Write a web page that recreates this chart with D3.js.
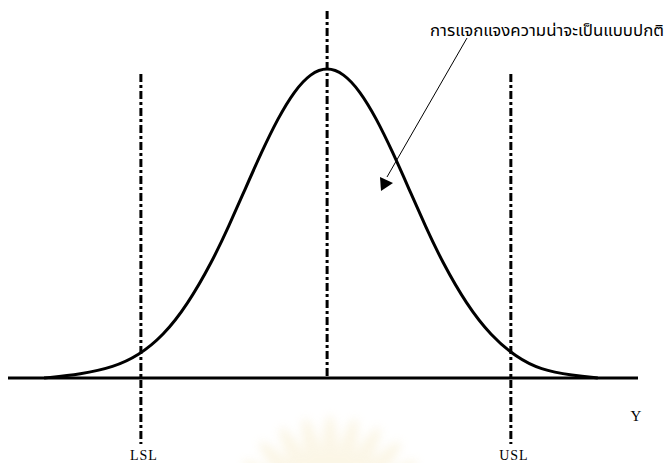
<!DOCTYPE html>
<html>
<head>
<meta charset="utf-8">
<script src="https://cdn.jsdelivr.net/npm/d3@7"></script>
<style>
  html, body { margin: 0; padding: 0; background: #fff; }
  svg { display: block; }
</style>
</head>
<body>
<svg id="chart" width="666" height="463"></svg>
<script>
// Normal curve, read as relative height (peak = 1) at positions in sigma units
const zValues = [-3.45, -3.0, -2.6, -2.3, -2.0, -1.7, -1.4, -1.2, -1.0, -0.8, -0.6, -0.4, -0.2, 0.0,
                 0.2, 0.4, 0.6, 0.8, 1.0, 1.2, 1.4, 1.7, 2.0, 2.3, 2.6, 3.0, 3.3];
const heights = [0.0, 0.012, 0.035, 0.072, 0.135, 0.236, 0.375, 0.487, 0.607, 0.726, 0.835, 0.923, 0.98, 1.0,
                 0.98, 0.923, 0.835, 0.726, 0.607, 0.487, 0.375, 0.236, 0.135, 0.068, 0.026, 0.008, 0.0];

// Specification limits and the process mean, in sigma units
const limitNames = ["LSL", "USL"];
const limitValues = [-2.27, 2.24];
const meanValue = 0;

const axisLabel = "Y";
const curveLabel = "การแจกแจงความน่าจะเป็นแบบปกติ";

const svg = d3.select("#chart");

const x = d3.scaleLinear().domain([-3.89, 3.79]).range([8, 638]);
const y = d3.scaleLinear().domain([0, 1]).range([378, 67]);

// faint seal-like rays in the background
const defs = svg.append("defs");
defs.append("filter").attr("id", "soft")
  .append("feGaussianBlur").attr("stdDeviation", 5);
const rays = svg.append("g").attr("filter", "url(#soft)").attr("opacity", 0.3);
d3.range(-70, 71, 14).forEach(a => {
  rays.append("ellipse")
    .attr("cx", 0).attr("cy", -55).attr("rx", 9).attr("ry", 50)
    .attr("fill", "#f3e2b0")
    .attr("transform", `translate(330,520) rotate(${a})`);
});

// baseline
svg.append("line")
  .attr("x1", x.range()[0]).attr("x2", x.range()[1])
  .attr("y1", y(0)).attr("y2", y(0))
  .attr("stroke", "#000").attr("stroke-width", 3);

// dash-dot verticals
const dashDot = "8,3,3,3";
svg.append("line")
  .attr("x1", x(meanValue)).attr("x2", x(meanValue))
  .attr("y1", 11).attr("y2", y(0))
  .attr("stroke", "#000").attr("stroke-width", 3)
  .attr("stroke-dasharray", dashDot);

limitValues.forEach((v, i) => {
  svg.append("line")
    .attr("x1", x(v)).attr("x2", x(v))
    .attr("y1", 74).attr("y2", 444)
    .attr("stroke", "#000").attr("stroke-width", 3)
    .attr("stroke-dasharray", dashDot);
  svg.append("text")
    .attr("x", x(v) + 3).attr("y", 460)
    .attr("text-anchor", "middle")
    .attr("font-family", "'Liberation Serif', 'DejaVu Serif', serif")
    .attr("font-size", 14)
    .attr("letter-spacing", 1)
    .text(limitNames[i]);
});

// the curve
const line = d3.line()
  .x((d, i) => x(zValues[i]))
  .y(d => y(d))
  .curve(d3.curveBasis);
svg.append("path")
  .datum(heights)
  .attr("d", line)
  .attr("fill", "none")
  .attr("stroke", "#000")
  .attr("stroke-width", 3)
  .attr("stroke-linejoin", "round");

// axis label
svg.append("text")
  .attr("x", 636).attr("y", 421)
  .attr("text-anchor", "middle")
  .attr("font-family", "'Liberation Serif', 'DejaVu Serif', serif")
  .attr("font-size", 15)
  .text(axisLabel);

// callout
svg.append("text")
  .attr("x", 430).attr("y", 36)
  .attr("font-family", "Tahoma, 'Noto Sans Thai', 'DejaVu Sans', sans-serif")
  .attr("font-size", 15)
  .attr("textLength", 234)
  .attr("lengthAdjust", "spacingAndGlyphs")
  .text(curveLabel);

svg.append("line")
  .attr("x1", 467).attr("y1", 38)
  .attr("x2", 387).attr("y2", 177)
  .attr("stroke", "#000").attr("stroke-width", 1);

svg.append("path")
  .attr("d", "M380,177 L393,183 L381,191 Z")
  .attr("fill", "#000");
</script>
</body>
</html>
